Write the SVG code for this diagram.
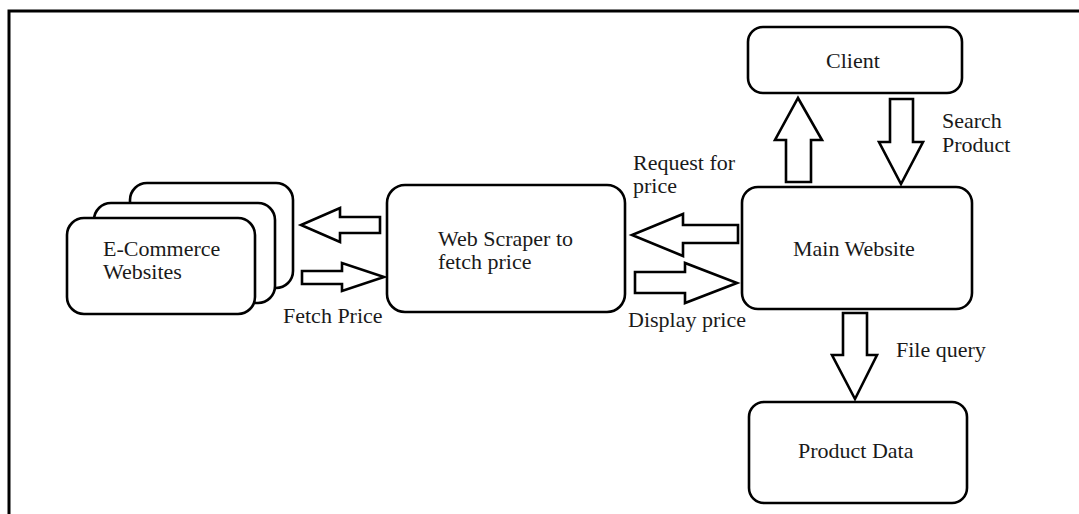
<svg xmlns="http://www.w3.org/2000/svg" width="1079" height="514" viewBox="0 0 1079 514">
<style>
.box{fill:#fff;stroke:#000;stroke-width:2.6}
.arr{fill:#fff;stroke:#000;stroke-width:2.6;stroke-linejoin:miter}
text{font-family:"Liberation Serif","Times New Roman",serif;font-size:22px;fill:#1a1a1a}
</style>
<rect x="0" y="0" width="1079" height="514" fill="#fff"/>
<rect id="frame" x="9" y="11" width="1090" height="520" fill="none" stroke="#000" stroke-width="3"/>
<g id="ecommerce">
<rect class="box" x="130" y="183" width="163" height="105" rx="17"/>
<rect class="box" x="94" y="203" width="181" height="100" rx="17"/>
<rect class="box" x="67" y="218" width="188" height="96" rx="17"/>
<text x="103" y="256">E-Commerce</text>
<text x="103" y="279">Websites</text>
</g>
<g id="scraper">
<rect class="box" x="387" y="185" width="238" height="127" rx="18"/>
<text x="438" y="246">Web Scraper to</text>
<text x="438" y="269">fetch price</text>
</g>
<g id="main">
<rect class="box" x="742" y="187" width="230" height="122" rx="16"/>
<text x="793" y="256">Main Website</text>
</g>
<g id="client">
<rect class="box" x="748" y="27" width="214" height="66" rx="15"/>
<text x="826" y="68">Client</text>
</g>
<g id="productdata">
<rect class="box" x="749" y="402" width="218" height="101" rx="15"/>
<text x="798" y="458">Product Data</text>
</g>
<g id="connectors">
<polygon class="arr" points="380,217 340,217 340,208 301,225 340,242 340,233 380,233"/>
<polygon class="arr" points="302,271 342,271 342,263 384,277 342,291 342,284 302,284"/>
<polygon class="arr" points="738,225 683,225 683,214 632,235 683,256 683,243 738,243"/>
<polygon class="arr" points="635,272 685,272 685,263 737,283 685,303 685,293 635,293"/>
<polygon class="arr" points="786,182 786,140 775,140 798,98 822,140 811,140 811,182"/>
<polygon class="arr" points="890,99 913,99 913,142 923,142 901,184 879,142 890,142"/>
<polygon class="arr" points="843,313 867,313 867,355 877,355 855,399 832,355 843,355"/>
<text x="283" y="323">Fetch Price</text>
<text x="633" y="170">Request for</text>
<text x="633" y="193">price</text>
<text x="628" y="327">Display price</text>
<text x="942" y="128">Search</text>
<text x="942" y="152">Product</text>
<text x="896" y="357">File query</text>
</g>
</svg>
